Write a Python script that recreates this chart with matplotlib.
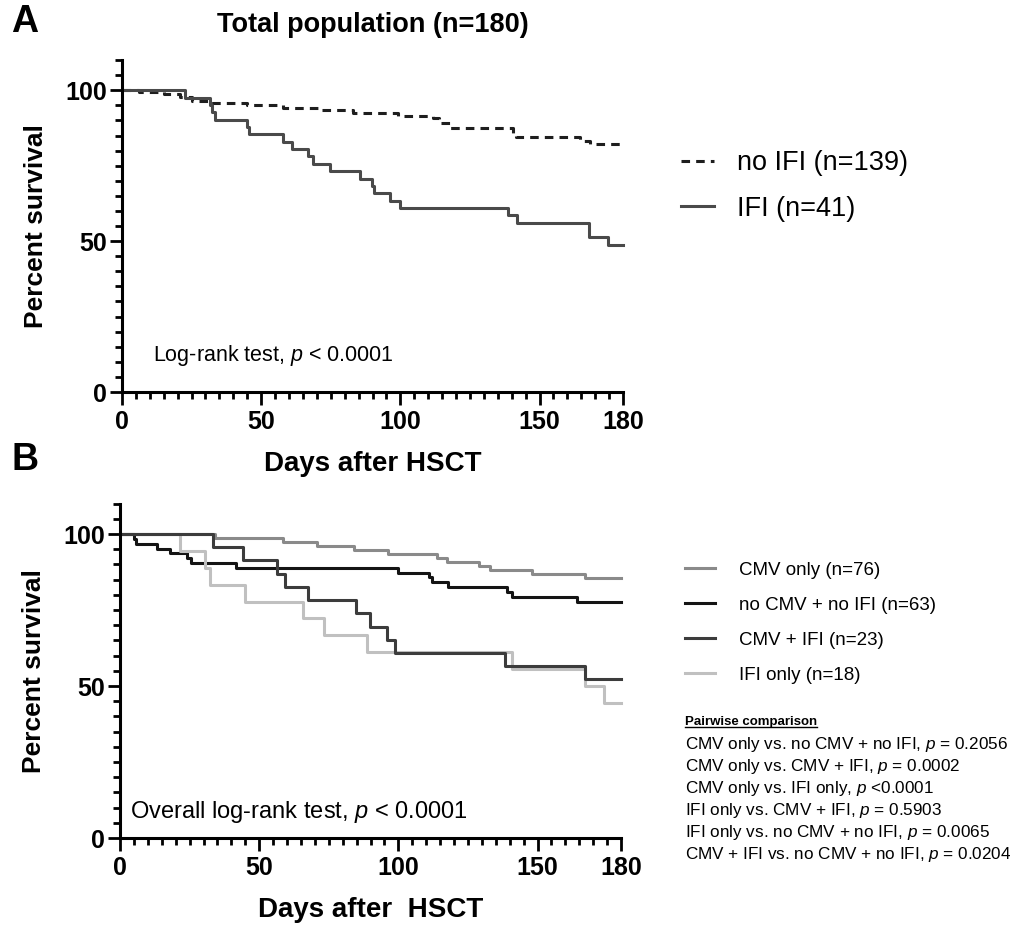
import matplotlib
matplotlib.use("Agg")
import matplotlib.pyplot as plt
from matplotlib.lines import Line2D
from matplotlib.ticker import MultipleLocator, FixedLocator

# ----------------- Data -----------------

# Panel A: total population
noifi_days = [0, 6, 15, 21, 25, 32, 45, 58, 71, 83, 99, 111.8, 114, 118, 140.5, 141.7, 164.6, 168, 180]
noifi_pct  = [100, 99.3, 98.6, 97.8, 96.4, 95.7, 95.0, 94.2, 93.3, 92.6, 91.4, 90.7, 89.2, 87.6, 85.2, 84.4, 83.3, 82.1, 82.1]

ifi_days = [0, 22.5, 31.5, 32.5, 33.5, 44.8, 45.8, 57.9, 61, 67, 68.5, 74.7, 85.5, 89.8, 90.6,
            96.3, 99.9, 138.7, 141.8, 167.8, 174.7, 180]
ifi_pct  = [100, 97.56, 95.12, 92.68, 90.24, 87.8, 85.37, 82.93, 80.49, 78.05, 75.61, 73.17, 70.73,
            68.29, 65.85, 63.41, 60.98, 58.54, 56.1, 51.22, 48.78, 48.78]

# Panel B: subgroups
cmv_days = [0, 34.1, 58.7, 70.7, 84, 96.3, 114, 117.5, 129, 133, 148, 167, 180]
cmv_pct  = [100, 98.68, 97.37, 96.05, 94.74, 93.42, 92.11, 90.79, 89.47, 88.16, 86.84, 85.53, 85.53]

none_days = [0, 5.0, 5.9, 13.2, 18, 24.2, 25.6, 41.7, 100, 111, 112, 118, 139, 141, 164, 180]
none_pct  = [100, 98.41, 96.83, 95.24, 93.65, 92.06, 90.48, 88.89, 87.30, 85.71, 84.13, 82.54,
             80.95, 79.37, 77.78, 77.78]

both_days = [0, 33.5, 44.1, 56.3, 59.3, 67.7, 84.6, 89.8, 96, 98.8, 138.3, 167, 180]
both_pct  = [100, 95.65, 91.30, 86.96, 82.61, 78.26, 73.91, 69.57, 65.22, 60.87, 56.52, 52.17, 52.17]

ifionly_days = [0, 21.6, 30.5, 32.3, 44.9, 65.6, 73.4, 88.7, 140.7, 167, 174, 180]
ifionly_pct  = [100, 94.44, 88.89, 83.33, 77.78, 72.22, 66.67, 61.11, 55.56, 50.0, 44.44, 44.44]

pairwise = [
    "CMV only vs. no CMV + no IFI, $p$ = 0.2056",
    "CMV only vs. CMV + IFI, $p$ = 0.0002",
    "CMV only vs. IFI only, $p$ <0.0001",
    "IFI only vs. CMV + IFI, $p$ = 0.5903",
    "IFI only vs. no CMV + no IFI, $p$ = 0.0065",
    "CMV + IFI vs. no CMV + no IFI, $p$ = 0.0204",
]

# ----------------- Style -----------------

plt.rcParams['font.family'] = ['Liberation Sans', 'DejaVu Sans']
plt.rcParams['mathtext.fontset'] = 'custom'
plt.rcParams['mathtext.rm'] = 'Liberation Sans'
plt.rcParams['mathtext.it'] = 'Liberation Sans:italic'
plt.rcParams['mathtext.bf'] = 'Liberation Sans:bold'

LW = 2.2


def style_axes(ax, xlabel):
    ax.set_xlim(0, 180)
    ax.set_ylim(0, 110)
    for s in ['top', 'right']:
        ax.spines[s].set_visible(False)
    for s in ['left', 'bottom']:
        ax.spines[s].set_linewidth(2.2)
    ax.xaxis.set_major_locator(FixedLocator([0, 50, 100, 150, 180]))
    ax.xaxis.set_minor_locator(MultipleLocator(5))
    ax.yaxis.set_major_locator(FixedLocator([0, 50, 100]))
    ax.yaxis.set_minor_locator(MultipleLocator(5))
    ax.tick_params(which='major', length=9, width=2.0, labelsize=18, pad=4)
    ax.tick_params(which='minor', length=5, width=2.0)
    ax.tick_params(axis='y', which='major', pad=2)
    for lab in ax.get_xticklabels() + ax.get_yticklabels():
        lab.set_fontweight('bold')
    ax.set_xlabel(xlabel, fontsize=20, fontweight='bold', labelpad=12)
    ax.set_ylabel('Percent survival', fontsize=19, fontweight='bold', labelpad=12)


fig = plt.figure(figsize=(10.32, 9.27), dpi=100)

# ----------------- Panel A -----------------
axA = fig.add_axes([0.1182, 0.5771, 0.4855, 0.3581])
axA.step(noifi_days, noifi_pct, where='post', color='#1e1e1e', lw=LW,
         linestyle=(0, (2.8, 2.0)), label='no IFI (n=139)', clip_on=False)
axA.step(ifi_days, ifi_pct, where='post', color='#4a4a4a', lw=LW,
         label='IFI (n=41)', clip_on=False)
style_axes(axA, 'Days after HSCT')
axA.set_title('Total population (n=180)', fontsize=19.5, fontweight='bold', pad=20)
axA.text(11, 12, 'Log-rank test, $p$ < 0.0001', fontsize=15.5, va='center')

fig.legend(*axA.get_legend_handles_labels(), loc='upper left',
           bbox_to_anchor=(0.660, 0.838), frameon=False, fontsize=19.5,
           handlelength=1.2, handletextpad=0.85, labelspacing=0.72,
           borderpad=0, borderaxespad=0)

# ----------------- Panel B -----------------
axB = fig.add_axes([0.1163, 0.0960, 0.4855, 0.3607])
axB.step(cmv_days, cmv_pct, where='post', color='#8a8a8a', lw=LW,
         label='CMV only (n=76)', clip_on=False)
axB.step(none_days, none_pct, where='post', color='#141414', lw=LW,
         label='no CMV + no IFI (n=63)', clip_on=False)
axB.step(ifionly_days, ifionly_pct, where='post', color='#c0c0c0', lw=LW,
         label='IFI only (n=18)', clip_on=False)
axB.step(both_days, both_pct, where='post', color='#3c3c3c', lw=LW,
         label='CMV + IFI (n=23)', clip_on=False)
style_axes(axB, 'Days after  HSCT')
axB.text(3.6, 8.5, 'Overall log-rank test, $p$ < 0.0001', fontsize=17, va='center')

h, l = axB.get_legend_handles_labels()
order = [0, 1, 3, 2]
fig.legend([h[i] for i in order], [l[i] for i in order], loc='upper left',
           bbox_to_anchor=(0.664, 0.394), frameon=False, fontsize=13.5,
           handlelength=1.6, handletextpad=1.25, labelspacing=0.95,
           borderpad=0, borderaxespad=0)

# pairwise block
head = fig.text(0.664, 0.221, 'Pairwise comparison', fontsize=9.5,
                fontweight='bold', va='center')
for i, line in enumerate(pairwise):
    fig.text(0.664, 0.197 - i * 0.0237, line, fontsize=12.3, va='center')

# panel letters
fig.text(0.024, 0.976, 'A', fontsize=27, fontweight='bold', va='center', ha='center')
fig.text(0.024, 0.504, 'B', fontsize=27, fontweight='bold', va='center', ha='center')

# underline the header
fig.canvas.draw()
bb = head.get_window_extent().transformed(fig.transFigure.inverted())
fig.add_artist(Line2D([bb.x0, bb.x1], [bb.y0 + 0.001, bb.y0 + 0.001],
                      color='black', lw=1.0, transform=fig.transFigure))

fig.savefig('out.png', dpi=100)
